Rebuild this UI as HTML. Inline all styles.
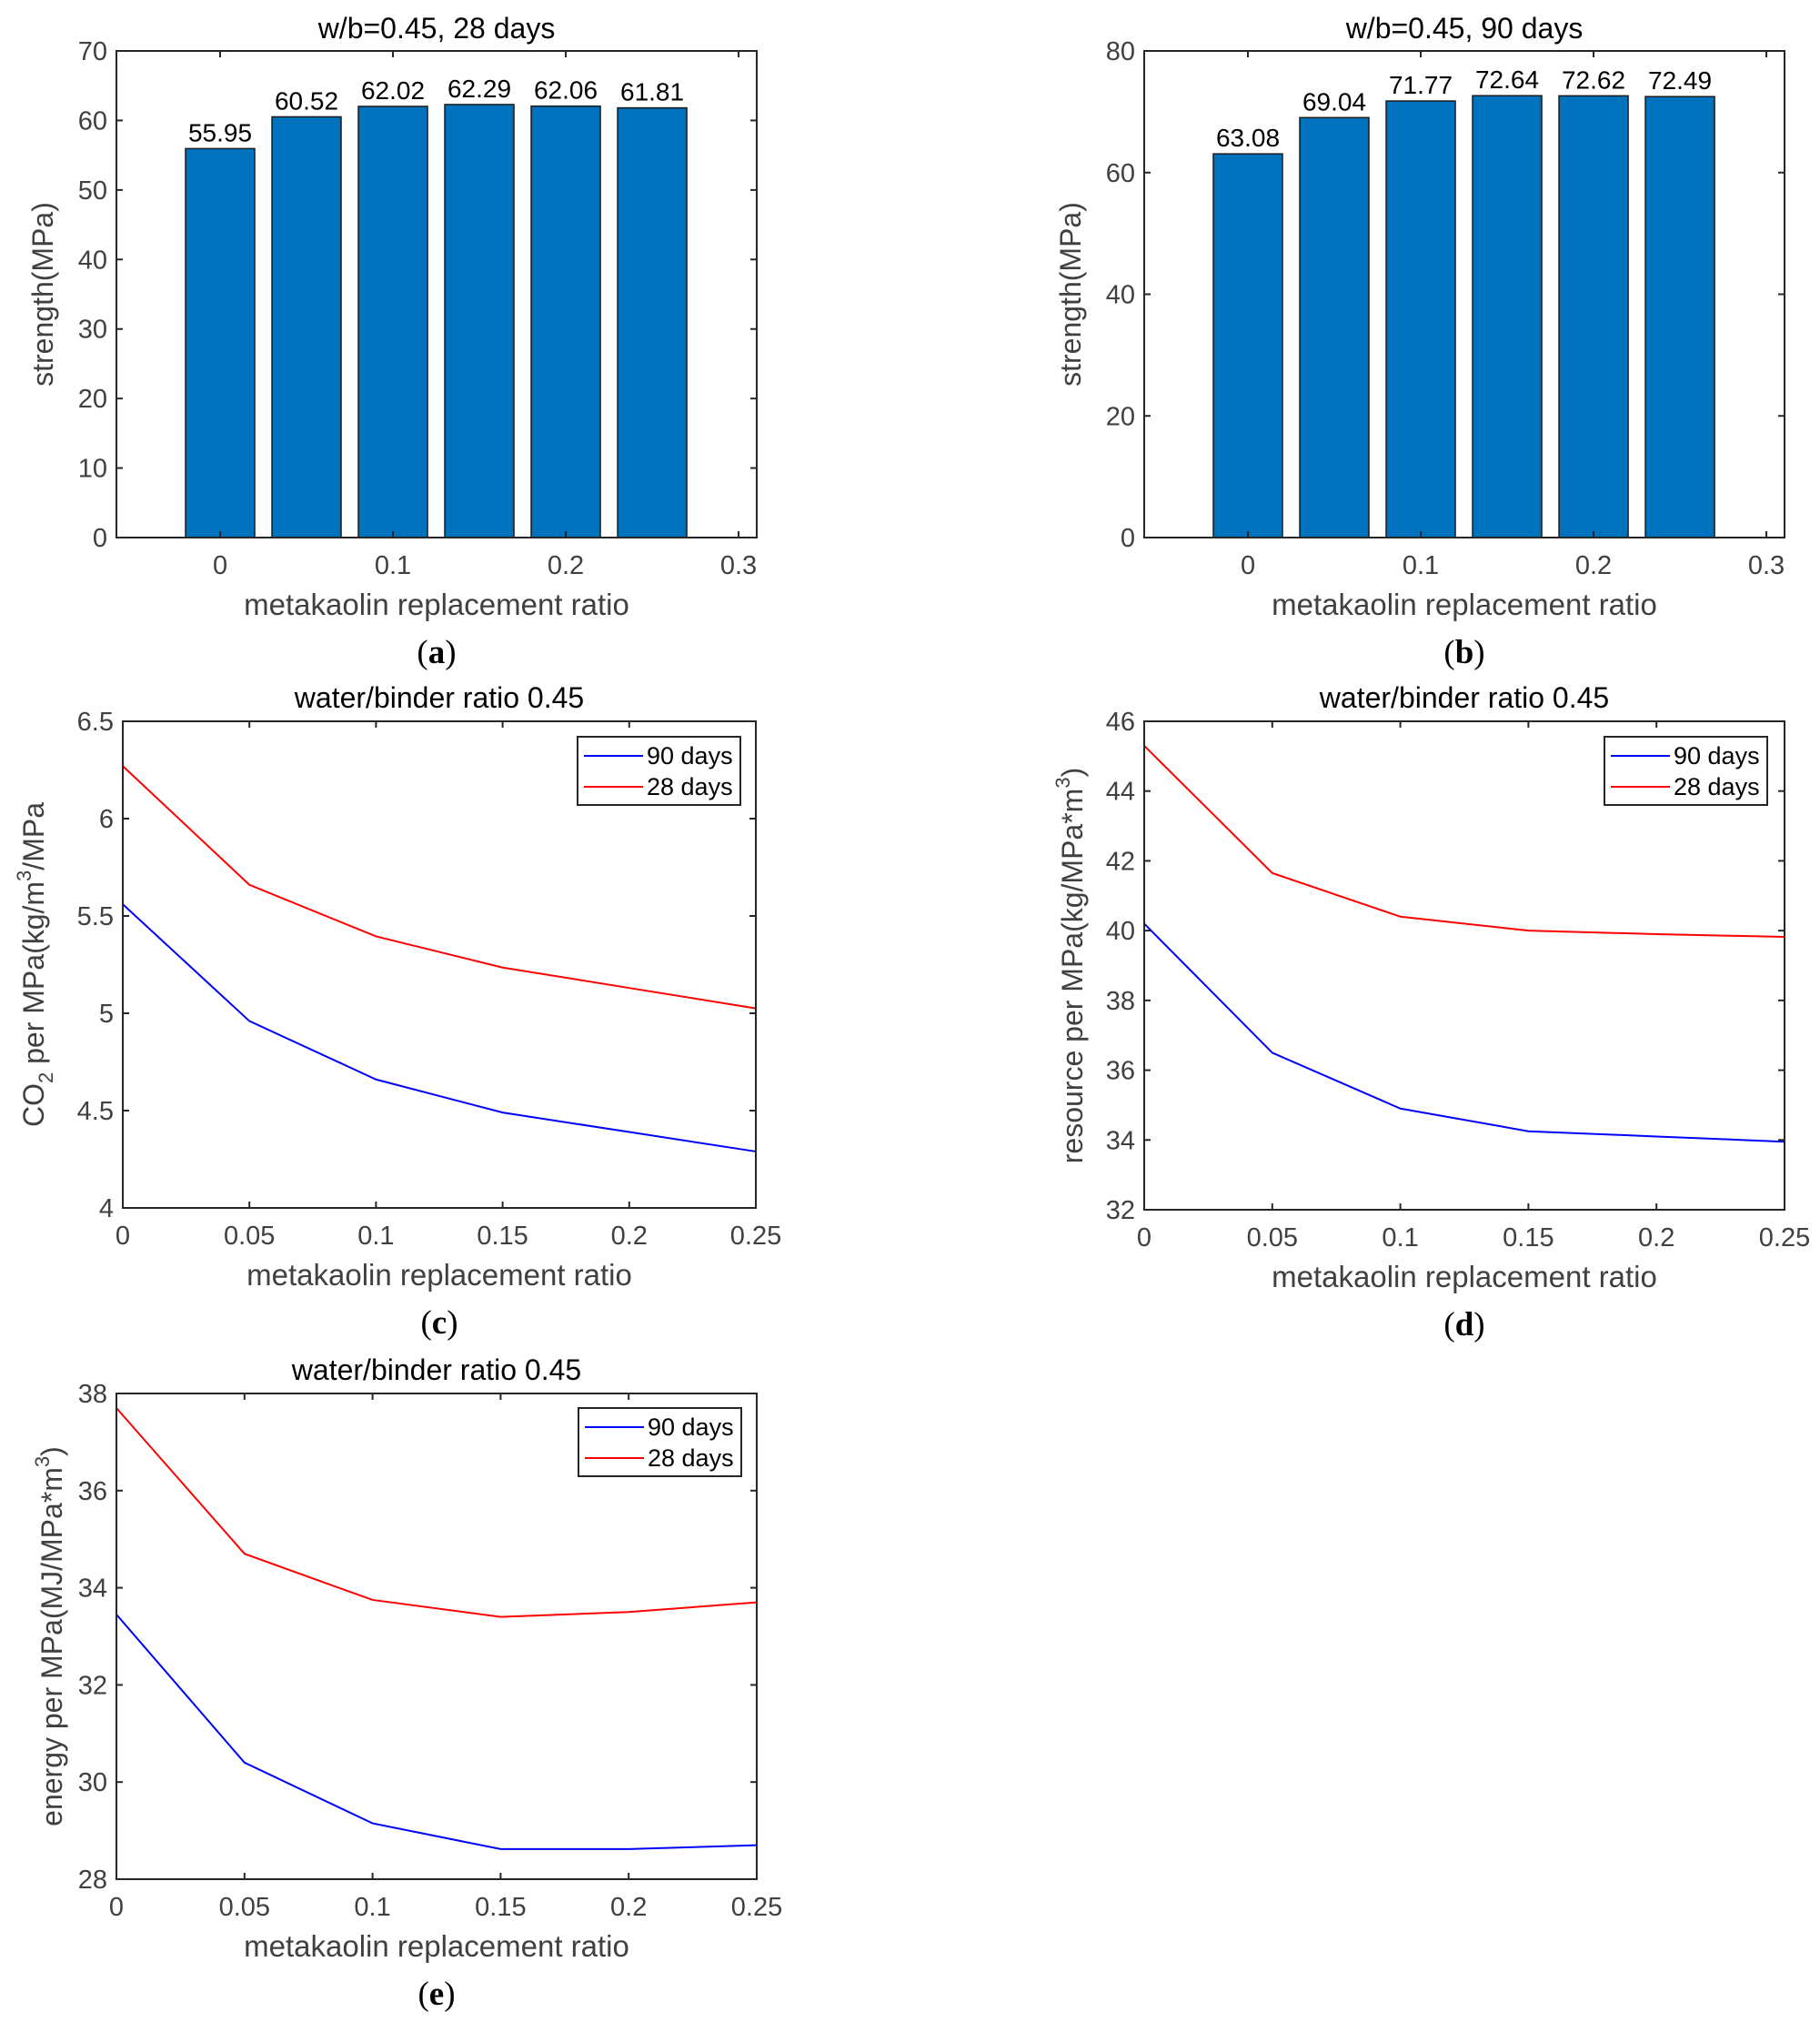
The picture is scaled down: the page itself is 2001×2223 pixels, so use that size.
<!DOCTYPE html>
<html><head><meta charset="utf-8"><style>
body{margin:0;background:#fff}
svg{display:block}
</style></head><body>
<svg id="fig" width="2001" height="2223" viewBox="0 0 2001 2223" font-family="Liberation Sans, sans-serif"></svg>
<script>
// ---- data ----
const barCategories = [0, 0.05, 0.1, 0.15, 0.2, 0.25];
const strength28 = [55.95, 60.52, 62.02, 62.29, 62.06, 61.81];
const strength90 = [63.08, 69.04, 71.77, 72.64, 72.62, 72.49];
const barLabels28 = ["55.95","60.52","62.02","62.29","62.06","61.81"];
const barLabels90 = ["63.08","69.04","71.77","72.64","72.62","72.49"];
const barXTicks = [0, 0.1, 0.2, 0.3];
const barXTickLabels = ["0","0.1","0.2","0.3"];
const yTicksA = [0,10,20,30,40,50,60,70];
const yTicksB = [0,20,40,60,80];

const lineX = [0, 0.05, 0.1, 0.15, 0.2, 0.25];
const lineXTicks = [0,0.05,0.1,0.15,0.2,0.25];
const lineXTickLabels = ["0","0.05","0.1","0.15","0.2","0.25"];
const co2_90 = [5.56, 4.96, 4.66, 4.49, 4.39, 4.29];
const co2_28 = [6.27, 5.66, 5.395, 5.235, 5.13, 5.025];
const co2Ticks = [4,4.5,5,5.5,6,6.5];
const co2TickLabels = ["4","4.5","5","5.5","6","6.5"];
const res_90 = [40.2, 36.5, 34.9, 34.25, 34.1, 33.95];
const res_28 = [45.3, 41.65, 40.4, 40.0, 39.9, 39.82];
const resTicks = [32,34,36,38,40,42,44,46];
const en_90 = [33.45, 30.4, 29.15, 28.62, 28.62, 28.7];
const en_28 = [37.7, 34.7, 33.75, 33.4, 33.5, 33.7];
const enTicks = [28,30,32,34,36,38];

const NS = "http://www.w3.org/2000/svg";
const svg = document.getElementById('fig');
function mk(tag, attrs, parent, txt){
  const e = document.createElementNS(NS, tag);
  for (const k in attrs) e.setAttribute(k, attrs[k]);
  if (txt !== undefined) e.textContent = txt;
  (parent||svg).appendChild(e);
  return e;
}
function scale(d0,d1,r0,r1){return v => r0 + (v-d0)/(d1-d0)*(r1-r0);}

function axes(g, L, R, T, B, xs, ys, xt, xtl, yt, ytl, tickY){
  const ax = mk('rect',{x:L,y:T,width:R-L,height:B-T,fill:'none',stroke:'#262626','stroke-width':2},g);
  
  
  xt.forEach((v,i)=>{
    const x = xs(v);
    const t1 = mk('line',{x1:x,y1:B,x2:x,y2:B-7,stroke:'#262626','stroke-width':2},g);
    
    
    const t2 = mk('line',{x1:x,y1:T,x2:x,y2:T+7,stroke:'#262626','stroke-width':2},g);
    
    
    const tl = mk('text',{x:x,y:tickY,'font-size':29,fill:'#404040','text-anchor':'middle'},g,xtl[i]);
    
    
  });
  yt.forEach((v,i)=>{
    const y = ys(v);
    const t1 = mk('line',{x1:L,y1:y,x2:L+7,y2:y,stroke:'#262626','stroke-width':2},g);
    
    
    const t2 = mk('line',{x1:R,y1:y,x2:R-7,y2:y,stroke:'#262626','stroke-width':2},g);
    
    
    const tl = mk('text',{x:L-10,y:y+10,'font-size':29,fill:'#404040','text-anchor':'end'},g,ytl[i]);
    
    
  });
}
function labels(g, cx, titleY, title, xlabY, capY, cap, ylx, yly, ylabHTML){
  const t = mk('text',{x:cx,y:titleY,'font-size':32,fill:'#000','text-anchor':'middle'},g,title);
  
  
  const xl = mk('text',{x:cx,y:xlabY,'font-size':33,fill:'#404040','text-anchor':'middle'},g,'metakaolin replacement ratio');
  
  
  const c = mk('text',{x:cx,y:capY,'font-size':37,fill:'#000','text-anchor':'middle',style:'font-family:"Liberation Serif",serif'},g);
  
  
  mk('tspan',{},c,'(');
  mk('tspan',{'font-weight':'bold'},c,cap);
  mk('tspan',{},c,')');
  const yl = mk('text',{x:0,y:0,'font-size':32,fill:'#404040','text-anchor':'middle',transform:`translate(${ylx},${yly}) rotate(-90)`},g);
  
  
  ylabHTML.forEach(p=>{ mk('tspan', p.a||{}, yl, p.t); });
}

function barPanel(name, L, R, T, B, vals, lbls, ymax, yt, capLetter, title){
  const g = mk('g',{});
  
  
  const xs = scale(-0.06, 0.3105, L, R);
  const ys = scale(0, ymax, B, T);
  const bw = xs(0.04)-xs(0);
  vals.forEach((v,i)=>{
    const x = xs(barCategories[i]);
    const r = mk('rect',{x:x-bw/2,y:ys(v),width:bw,height:B-ys(v),fill:'#0072BD',stroke:'#1a1a1a','stroke-width':1.5},g);
    
    
    const t = mk('text',{x:x,y:ys(v)-8,'font-size':28,fill:'#000','text-anchor':'middle'},g,lbls[i]);
    
    
  });
  axes(g,L,R,T,B,xs,ys,barXTicks,barXTickLabels,yt,yt.map(String),B+40);
  labels(g,(L+R)/2,T-14,title,B+85,B+138,capLetter,L-70,(T+B)/2,[{t:'strength(MPa)'}]);
}
barPanel('panel-a-strength-28d',128,832,56,591,strength28,barLabels28,70,yTicksA,'a','w/b=0.45, 28 days');
barPanel('panel-b-strength-90d',1258,1962,56,591,strength90,barLabels90,80,yTicksB,'b','w/b=0.45, 90 days');

function linePanel(name,L,R,T,B,y0,y1,s90,s28,yt,ytl,capLetter,ylab,ylx,leg){
  const g = mk('g',{});
  
  
  const xs = scale(0,0.25,L,R);
  const ys = scale(y0,y1,B,T);
  [[s28,'#ff0000','line-28-days'],[s90,'#0000ff','line-90-days']].forEach(([s,c,n])=>{
    const p = mk('polyline',{points:s.map((v,i)=>xs(lineX[i])+','+ys(v)).join(' '),fill:'none',stroke:c,'stroke-width':2},g);
    
    
  });
  axes(g,L,R,T,B,xs,ys,lineXTicks,lineXTickLabels,yt,ytl,B+40);
  labels(g,(L+R)/2,T-15,'water/binder ratio 0.45',B+85,B+138,capLetter,ylx,(T+B)/2,ylab);
  const lg = mk('g',{},g);
  
  
  mk('rect',{x:leg[0],y:leg[1],width:179,height:75,fill:'#fff',stroke:'#262626','stroke-width':2},lg);
  [['90 days','#0000ff'],['28 days','#ff0000']].forEach(([t,c],i)=>{
    const yy = leg[1]+21+i*34;
    const ln = mk('line',{x1:leg[0]+7,y1:yy,x2:leg[0]+72,y2:yy,stroke:c,'stroke-width':2},lg);
    
    
    const tx = mk('text',{x:leg[0]+76,y:yy+9,'font-size':27,fill:'#000'},lg,t);
    
    
  });
}
linePanel('panel-c-co2',135,831,793,1328,4,6.5,co2_90,co2_28,co2Ticks,co2TickLabels,'c',
  [{t:'CO'},{t:'2',a:{'font-size':22,dy:10}},{t:' per MPa(kg/m',a:{dy:-10}},{t:'3',a:{'font-size':22,dy:-14}},{t:'/MPa',a:{dy:14}}],48,[635,810]);
linePanel('panel-d-resource',1258,1962,793,1330,32,46,res_90,res_28,resTicks,resTicks.map(String),'d',
  [{t:'resource per MPa(kg/MPa*m'},{t:'3',a:{'font-size':22,dy:-14}},{t:')',a:{dy:14}}],1190,[1764,810]);
linePanel('panel-e-energy',128,832,1532,2066,28,38,en_90,en_28,enTicks,enTicks.map(String),'e',
  [{t:'energy per MPa(MJ/MPa*m'},{t:'3',a:{'font-size':22,dy:-14}},{t:')',a:{dy:14}}],68,[636,1548]);
</script>
</body></html>
